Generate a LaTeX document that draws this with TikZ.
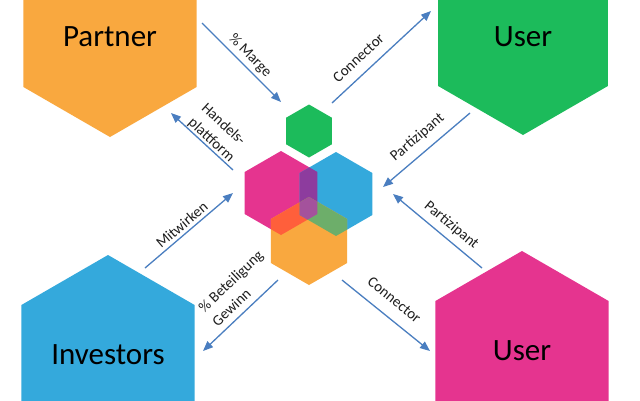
\documentclass[tikz,border=0pt]{standalone}
\usepackage{fontspec}
\setmainfont{Carlito}
\usetikzlibrary{arrows.meta,shapes.geometric}
\definecolor{cOrange}{HTML}{F9A83F}
\definecolor{cGreen}{HTML}{1CBB5B}
\definecolor{cBlue}{HTML}{34A9DC}
\definecolor{cPink}{HTML}{E5348F}
\definecolor{cArrow}{HTML}{4A7EC0}
\definecolor{cMB}{HTML}{8D3C9E}
\definecolor{cOM}{HTML}{FF5F3B}
\definecolor{cOB}{HTML}{6DAE6A}
\definecolor{cOMB}{HTML}{A4529C}
\definecolor{cText}{HTML}{1E1E1E}
\newcommand\hexp[1]{(#1.corner 1) -- (#1.corner 2) -- (#1.corner 3) -- (#1.corner 4) -- (#1.corner 5) -- (#1.corner 6) -- cycle}
\tikzset{
  hex/.style={regular polygon, regular polygon sides=6, shape border rotate=30,
    inner sep=0pt, outer sep=0pt, draw=none},
  bighex/.style={hex, minimum size=200pt, font=\fontsize{31}{37}\selectfont, text=black},
  flow/.style={draw=cArrow, line width=1.3pt, -{Triangle[length=10pt,width=8pt]}},
  lbl/.style={sloped, font=\fontsize{15}{19.5}\selectfont, text=cText,
    inner sep=0pt, align=left},
}
\begin{document}
\begin{tikzpicture}[x=1pt,y=-1pt]
\useasboundingbox (0,0) rectangle (640,400);
\clip (0,0) rectangle (640,400);
\fill[white] (0,0) rectangle (640,400);

% big hexagons
\node[bighex, fill=cOrange] (partner) at (110,37) {Partner};
\node[bighex, fill=cGreen, minimum size=196pt] (userT) at (523,37) {User};
\node[bighex, fill=cBlue] (investors) at (108,355) {Investors};
\node[bighex, fill=cPink] (userB) at (522,351) {User};

% small hexagons
\node[hex, fill=cGreen, minimum size=53pt] (hg) at (309,131) {};
\node[hex, fill=cPink, minimum size=84pt] (hm) at (281,193) {};
\node[hex, fill=cBlue, minimum size=84pt] (hb) at (336,194) {};
\node[hex, fill=cOrange, minimum size=88pt] (ho) at (309,241) {};

% overlaps
\begin{scope}\clip \hexp{hm}; \fill[cMB] \hexp{hb}; \end{scope}
\begin{scope}\clip \hexp{ho}; \fill[cOM] \hexp{hm}; \end{scope}
\begin{scope}\clip \hexp{ho}; \fill[cOB] \hexp{hb}; \end{scope}
\begin{scope}\clip \hexp{ho}; \clip \hexp{hm}; \fill[cOMB] \hexp{hb}; \end{scope}

% arrow end points
\coordinate (a1s) at (202,23);  \coordinate (a1e) at (281,102);
\coordinate (a2s) at (332,103); \coordinate (a2e) at (431,11);
\coordinate (a3s) at (470,113); \coordinate (a3e) at (383,187);
\coordinate (a4s) at (482,268); \coordinate (a4e) at (393,194);
\coordinate (a5s) at (342,280); \coordinate (a5e) at (430,351);
\coordinate (a6s) at (278,280); \coordinate (a6e) at (203,351);
\coordinate (a7s) at (145,268); \coordinate (a7e) at (233,193);
\coordinate (a8s) at (233,170); \coordinate (a8e) at (171,113);

% arrows with labels
\draw[flow] (a1s) -- node[lbl, pos=0.51, yshift=10.8pt] (l1) {\% Marge} (a1e);
\draw[flow] (a2s) -- node[lbl, pos=0.37, yshift=15pt] (l2) {Connector} (a2e);
\draw[flow] (a3s) -- node[lbl, pos=0.49, yshift=15.3pt] (l3) {Partizipant} (a3e);
\draw[flow] (a4s) -- node[lbl, pos=0.44, yshift=13.3pt] (l4) {Partizipant} (a4e);
\draw[flow] (a5s) -- node[lbl, pos=0.47, yshift=17.5pt] (l5) {Connector} (a5e);
\draw[flow] (a6s) -- node[lbl, pos=0.34, yshift=22pt] (l6) {\% Beteiligung\\Gewinn} (a6e);
\draw[flow] (a7s) -- node[lbl, pos=0.485, yshift=9pt] (l7) {Mitwirken} (a7e);
\draw[flow] (a8s) -- node[lbl, pos=0.43, yshift=17pt] (l8) {Handels-\\plattform} (a8e);
\end{tikzpicture}
\end{document}
